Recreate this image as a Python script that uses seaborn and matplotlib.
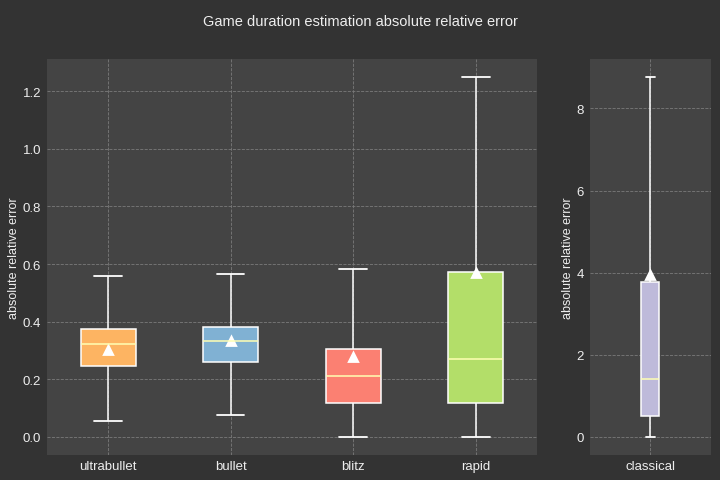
import matplotlib
matplotlib.use("Agg")
import matplotlib.pyplot as plt
import seaborn as sns
import pandas as pd

# five-number summaries (min, q1, median, q3, max) and means
categories = ['ultrabullet', 'bullet', 'blitz', 'rapid']
lows = [0.055, 0.076, 0.0, 0.0]
q1s = [0.246, 0.260, 0.118, 0.118]
medians = [0.323, 0.333, 0.212, 0.270]
q3s = [0.375, 0.381, 0.305, 0.572]
highs = [0.558, 0.565, 0.583, 1.249]
means = [0.302, 0.333, 0.277, 0.569]

classical_cat = ['classical']
classical_low = [0.0]
classical_q1 = [0.51]
classical_median = [1.41]
classical_q3 = [3.77]
classical_high = [8.76]
classical_mean = [3.94]

colors = ['#fdb462', '#80b1d3', '#fb8072', '#b3de69']
classical_color = ['#bebada']

sns.set_theme(style="dark", rc={
    'figure.facecolor': '#333333',
    'axes.facecolor': '#444444',
    'axes.edgecolor': '#444444',
    'axes.grid': True,
    'grid.color': '#7a7a7a',
    'grid.linestyle': '--',
    'grid.linewidth': 0.6,
    'text.color': '#eeeeee',
    'axes.labelcolor': '#eeeeee',
    'xtick.color': '#eeeeee',
    'ytick.color': '#eeeeee',
    'xtick.major.size': 0,
    'ytick.major.size': 0,
    'ytick.major.pad': 4,
})
plt.rcParams['font.family'] = ['Liberation Sans', 'DejaVu Sans']


def long_table(cats, lo, a, m, b, hi):
    rows = []
    for i, c in enumerate(cats):
        for v in (lo[i], a[i], m[i], b[i], hi[i]):
            rows.append({'mode': c, 'err': v})
    return pd.DataFrame(rows)


def draw(ax, df, cats, pal, mean_vals, width):
    sns.boxplot(data=df, x='mode', y='err', hue='mode', order=cats, palette=pal,
                saturation=1, width=width, whis=(0, 100), linecolor='white',
                linewidth=1.1, legend=False, ax=ax,
                medianprops={'color': '#ffffb3', 'linewidth': 1.1},
                capprops={'color': 'white', 'linewidth': 1.3})
    sns.pointplot(x=cats, y=mean_vals, order=cats, linestyle='none', marker='^',
                  color='white', markersize=5.5, ax=ax, errorbar=None)
    ax.set_xlabel('')
    ax.set_ylabel('absolute relative error', fontsize=9, labelpad=2)
    ax.grid(True, axis='both')
    ax.tick_params(labelsize=9.5)
    ax.set_axisbelow(True)
    for s in ax.spines.values():
        s.set_visible(False)


fig = plt.figure(figsize=(7.2, 4.81), dpi=100)
ax1 = fig.add_axes([0.065, 0.052, 0.681, 0.823])
ax2 = fig.add_axes([0.819, 0.052, 0.168, 0.823])

draw(ax1, long_table(categories, lows, q1s, medians, q3s, highs),
     categories, colors, means, 0.45)
draw(ax2, long_table(classical_cat, classical_low, classical_q1, classical_median,
                     classical_q3, classical_high),
     classical_cat, classical_color, classical_mean, 0.15)
ax2.set_xlim(-0.5, 0.5)

fig.suptitle('Game duration estimation absolute relative error', fontsize=10.5, y=0.968)
fig.savefig('out.png', dpi=100, facecolor=fig.get_facecolor())
